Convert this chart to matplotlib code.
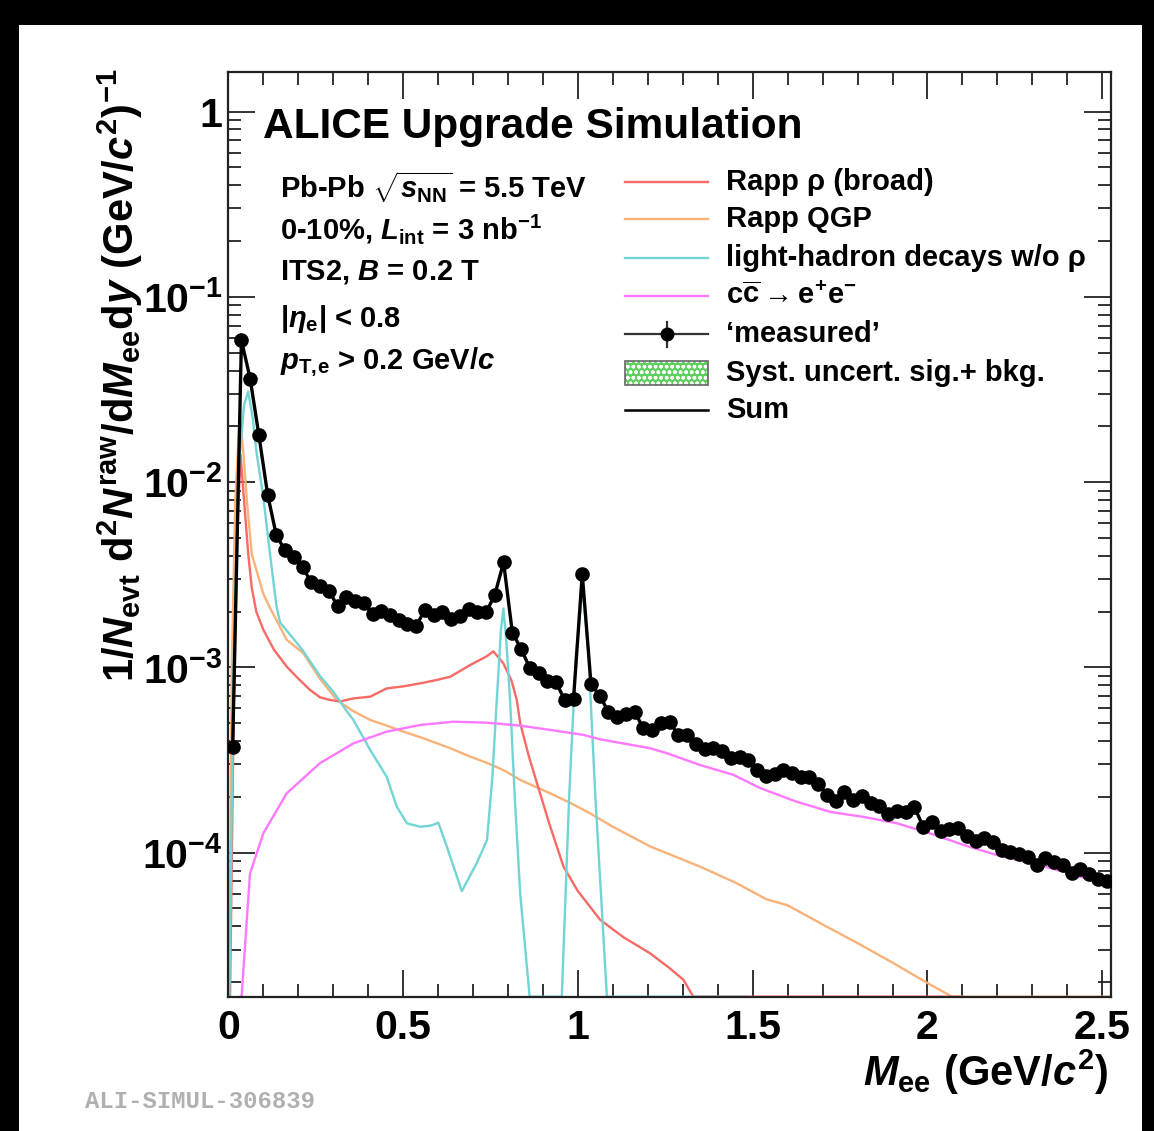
import numpy as np
import matplotlib
matplotlib.use("Agg")
import matplotlib.pyplot as plt
from matplotlib.patches import Rectangle
from matplotlib.lines import Line2D
from matplotlib.ticker import FixedLocator, MultipleLocator, NullFormatter

plt.rcParams['font.family'] = ['Liberation Sans', 'DejaVu Sans']
plt.rcParams['font.weight'] = 'bold'
plt.rcParams['mathtext.fontset'] = 'custom'
plt.rcParams['mathtext.rm'] = 'Liberation Sans:bold'
plt.rcParams['mathtext.it'] = 'Liberation Sans:italic:bold'
plt.rcParams['mathtext.bf'] = 'Liberation Sans:bold'
plt.rcParams['mathtext.sf'] = 'Liberation Sans:bold'

# ---------------- data ----------------
BIN_WIDTH = 0.025
N_BINS = 101
V_MEAS = [
    3.7e-4, 0.0583, 0.0362, 0.0179, 0.00857, 0.00515, 0.00428, 0.00393, 0.00346, 0.00288,
    0.00276, 0.00259, 0.00215, 0.00239, 0.00229, 0.00223, 0.00194, 0.00202, 0.00192, 0.00181,
    0.00171, 0.00168, 0.00204, 0.00192, 0.00199, 0.00183, 0.00190, 0.00207, 0.00198, 0.00198,
    0.00247, 0.00369, 0.00154, 0.00126, 0.000992, 0.000936, 0.000848, 0.000830, 0.000666, 0.000675,
    0.00319, 0.000813, 0.000703, 0.000575, 0.000538, 0.000562, 0.000575, 0.000468, 0.000461, 0.000498,
    0.000507, 0.000431, 0.000431, 0.000384, 0.000362, 0.000366, 0.000355, 0.000324, 0.000327, 0.000317,
    0.000279, 0.000259, 0.000265, 0.000279, 0.000268, 0.000255, 0.000256, 0.000236, 0.000205, 0.000190,
    0.000212, 0.000192, 0.000202, 0.000186, 0.000179, 0.000161, 0.000168, 0.000165, 0.000177, 0.000138,
    0.000147, 0.000131, 0.000134, 0.000136, 0.000123, 0.000116, 0.000120, 0.000114, 0.000104, 0.000101,
    9.83e-5, 9.45e-5, 8.57e-5, 9.32e-5, 8.94e-5, 8.57e-5, 7.80e-5, 8.13e-5, 7.65e-5, 7.18e-5,
    7.03e-5,
]
M_MEAS = BIN_WIDTH * (np.arange(N_BINS) + 0.5)

RHO_X = [0.005, 0.015, 0.025, 0.035, 0.045, 0.057, 0.067, 0.08, 0.10, 0.13, 0.167, 0.20, 0.234,
         0.262, 0.291, 0.32, 0.358, 0.406, 0.453, 0.501, 0.549, 0.596, 0.635, 0.692, 0.74, 0.758,
         0.775, 0.787, 0.81, 0.825, 0.835, 0.86, 0.883, 0.92, 0.959, 1.0, 1.064, 1.13, 1.207,
         1.26, 1.302, 1.33, 1.40, 1.70, 2.10]
RHO_Y = [1.0e-5, 5e-4, 0.005, 0.014, 0.008, 0.0041, 0.0027, 0.0020, 0.0016, 0.00125, 0.00101,
         0.00087, 0.000755, 0.00069, 0.000667, 0.000655, 0.00068, 0.000695, 0.00077, 0.00079,
         0.00082, 0.000855, 0.00089, 0.00103, 0.00115, 0.00122, 0.00112, 0.00105, 0.00085,
         0.00067, 0.00050, 0.00033, 0.000237, 0.00014, 8.4e-5, 6.2e-5, 4.34e-5, 3.5e-5, 2.86e-5,
         2.4e-5, 2.06e-5, 1.67e-5, 1.0e-5, 1.0e-5, 1.0e-5]

QGP_X = [0.003, 0.01, 0.02, 0.033, 0.045, 0.053, 0.067, 0.10, 0.119, 0.167, 0.215, 0.262, 0.31,
         0.358, 0.406, 0.453, 0.501, 0.549, 0.596, 0.635, 0.692, 0.74, 0.787, 0.835, 0.921,
         0.98, 1.035, 1.10, 1.207, 1.28, 1.35, 1.45, 1.54, 1.60, 1.70, 1.80, 1.90, 2.00, 2.07,
         2.10, 2.52]
QGP_Y = [1.0e-5, 0.001, 0.008, 0.0235, 0.013, 0.008, 0.0041, 0.0025, 0.0021, 0.00141, 0.00119,
         0.00087, 0.000667, 0.00058, 0.00052, 0.000485, 0.00045, 0.00042, 0.00039, 0.000366,
         0.00033, 0.000305, 0.000279, 0.000247, 0.000209, 0.000185, 0.000163, 0.000138,
         0.000108, 9.5e-5, 8.4e-5, 6.9e-5, 5.6e-5, 5.2e-5, 4.1e-5, 3.25e-5, 2.55e-5, 1.98e-5,
         1.67e-5, 1.0e-5, 1.0e-5]

LH_X = [0.003, 0.015, 0.03, 0.045, 0.057, 0.07, 0.081, 0.10, 0.119, 0.138, 0.148, 0.167, 0.19,
        0.215, 0.262, 0.30, 0.339, 0.358, 0.406, 0.453, 0.482, 0.511, 0.549, 0.58, 0.601, 0.625,
        0.668, 0.711, 0.74, 0.755, 0.768, 0.78, 0.787, 0.795, 0.806, 0.82, 0.835, 0.862, 0.954,
        0.975, 0.995, 1.014, 1.03, 1.05, 1.083, 1.20, 1.48]
LH_Y = [1.0e-5, 0.001, 0.012, 0.026, 0.0308, 0.022, 0.0143, 0.00835, 0.00413, 0.00213, 0.00175,
        0.00158, 0.0014, 0.00122, 0.0009, 0.00074, 0.00058, 0.00052, 0.000358, 0.000257,
        0.000177, 0.000144, 0.000138, 0.00014, 0.000145, 0.000108, 6.2e-5, 8.8e-5, 0.000117,
        0.00025, 0.000667, 0.0016, 0.00208, 0.0014, 0.000667, 0.00019, 6e-5, 1.0e-5, 1.0e-5,
        0.0002, 0.0012, 0.00268, 0.0012, 0.0002, 1.0e-5, 1.0e-5, 1.0e-5]

CC_X = [0.035, 0.038, 0.062, 0.10, 0.167, 0.262, 0.358, 0.453, 0.549, 0.644, 0.74, 0.835, 0.92,
        1.016, 1.064, 1.207, 1.255, 1.35, 1.445, 1.522, 1.62, 1.722, 1.817, 1.913, 2.008, 2.104,
        2.199, 2.295, 2.39, 2.504]
CC_Y = [1.0e-5, 1.67e-5, 7.7e-5, 0.000127, 0.000209, 0.000304, 0.000389, 0.00045, 0.000489,
        0.000509, 0.000503, 0.000485, 0.00046, 0.000432, 0.000409, 0.000366, 0.000344, 0.000297,
        0.000263, 0.000223, 0.00019, 0.000166, 0.000156, 0.000144, 0.000127, 0.00011, 9.7e-5,
        8.8e-5, 7.9e-5, 6.8e-5]

X_TICKS = [0, 0.5, 1, 1.5, 2, 2.5]
X_TICKLABELS = ["0", "0.5", "1", "1.5", "2", "2.5"]
Y_TICKS = [1e-4, 1e-3, 1e-2, 1e-1, 1]
Y_TICKLABELS = [r"$10^{-4}$", r"$10^{-3}$", r"$10^{-2}$", r"$10^{-1}$", "1"]

XMIN, XMAX = 0.0, 2.525
YMIN, YMAX = 1.67e-5, 1.64

C_RED = "#f76a66"
C_ORANGE = "#f8b27a"
C_CYAN = "#72d4d4"
C_MAG = "#ff78ff"
C_GREEN = "#5fcf5f"

# ---------------- figure ----------------
W, H = 1154, 1131
fig = plt.figure(figsize=(W / 100, H / 100), dpi=100)
ax = fig.add_axes([228.3 / W, 1 - 996.7 / H, (1111 - 228.3) / W, (996.7 - 71.7) / H])

# black frame of the screenshot
for (x0, y0, w, h) in [(0, H - 25, W, 25), (0, 0, 19, H), (W - 12, 0, 12, H)]:
    fig.patches.append(Rectangle((x0 / W, y0 / H), w / W, h / H, transform=fig.transFigure,
                                 facecolor="black", edgecolor="none", zorder=20))

def clipped(y):
    return np.maximum(np.asarray(y, dtype=float), YMIN)

lw = 1.7
ax.plot(QGP_X, clipped(QGP_Y), color=C_ORANGE, lw=lw, zorder=2)
ax.plot(RHO_X, clipped(RHO_Y), color=C_RED, lw=lw, zorder=2.1)
ax.plot(LH_X, clipped(LH_Y), color=C_CYAN, lw=lw, zorder=2.2)
ax.plot(CC_X, clipped(CC_Y), color=C_MAG, lw=lw, zorder=2.3)

vm = np.asarray(V_MEAS)
ax.bar(M_MEAS, vm * 0.10, bottom=vm * 0.95, width=BIN_WIDTH, color=C_GREEN, lw=0, zorder=3)
ax.plot(M_MEAS, vm, color="black", lw=2.4, zorder=4)
ax.plot(M_MEAS, vm, ls="none", marker="o", ms=9.5, color="black", zorder=5)

ax.set_yscale("log")
ax.set_xlim(XMIN, XMAX)
ax.set_ylim(YMIN, YMAX)

ax.xaxis.set_major_locator(FixedLocator(X_TICKS))
ax.set_xticklabels(X_TICKLABELS)
ax.xaxis.set_minor_locator(MultipleLocator(0.1))
ax.yaxis.set_major_locator(FixedLocator(Y_TICKS))
ax.set_yticklabels(Y_TICKLABELS)
minors = [m * 10.0 ** e for e in range(-5, 1) for m in range(2, 10)]
ax.yaxis.set_minor_locator(FixedLocator(minors))
ax.yaxis.set_minor_formatter(NullFormatter())

ax.tick_params(which="both", direction="in", top=True, right=True, color="#222222",
               width=1.3, labelsize=29.5)
ax.tick_params(which="major", length=19.5)
ax.tick_params(axis="x", which="major", pad=9)
ax.tick_params(axis="y", which="major", pad=4)
ax.tick_params(which="minor", length=9.5)
for s in ax.spines.values():
    s.set_linewidth(1.6)
    s.set_color("#222222")

# axis titles
fig.text(120 / W, 1 - 68 / H,
         r"$1/N_{\rm evt}\ {\rm d}^{2}N^{\rm raw}/{\rm d}M_{\rm ee}{\rm d}y\ ({\rm GeV}/c^{2})^{-1}$",
         rotation=90, ha="center", va="top", fontsize=30)
fig.text(1108 / W, 1 - 1072 / H, r"$M_{\rm ee}\ ({\rm GeV}/c^{2})$", ha="right", va="center",
         fontsize=30)

# header texts
def af(px, py):
    return ((px - 228.3) / 882.7, (996.7 - py) / 925.0)

ax.text(*af(263, 127), "ALICE Upgrade Simulation", transform=ax.transAxes, fontsize=30.5,
        ha="left", va="center")
info = [r"Pb-Pb $\sqrt{s_{\rm NN}}$ = 5.5 TeV",
        r"0-10%, $L_{\rm int}$ = 3 nb$^{-1}$",
        r"ITS2, $B$ = 0.2 T",
        r"|$\eta_{\rm e}$| < 0.8",
        r"$p_{\rm T,\!e}$ > 0.2 GeV/$c$"]
info_y = [187, 229, 272, 319, 362]
for t, py in zip(info, info_y):
    ax.text(*af(280, py), t, transform=ax.transAxes, fontsize=21, ha="left", va="center")

# legend (drawn by hand in axes fraction)
leg_labels = ["Rapp \u03c1 (broad)", "Rapp QGP", "light-hadron decays w/o \u03c1",
              r"c$\overline{\rm c} \rightarrow {\rm e}^{+}{\rm e}^{-}$", "\u2018measured\u2019",
              "Syst. uncert. sig.+ bkg.", "Sum"]
leg_y = [182, 219, 258, 296, 334, 373, 410]
x0, _ = af(625, 0)
x1, _ = af(708, 0)
xt, _ = af(726, 0)
leg_colors = [C_RED, C_ORANGE, C_CYAN, C_MAG]
for i, (lab, py) in enumerate(zip(leg_labels, leg_y)):
    _, yy = af(0, py)
    if i < 4:
        ax.add_line(Line2D([x0, x1], [yy, yy], color=leg_colors[i], lw=lw,
                           transform=ax.transAxes, clip_on=False))
    elif i == 4:
        ax.add_line(Line2D([x0, x1], [yy, yy], color="#333333", lw=1.6,
                           transform=ax.transAxes, clip_on=False))
        _, ya = af(0, 322)
        _, yb = af(0, 347)
        xm = (x0 + x1) / 2
        ax.add_line(Line2D([xm, xm], [yb, ya], color="#333333", lw=1.6,
                           transform=ax.transAxes, clip_on=False))
        ax.add_line(Line2D([xm], [yy], marker="o", ms=9, color="black", ls="none",
                           transform=ax.transAxes, clip_on=False))
    elif i == 5:
        _, yb = af(0, 385)
        _, ya = af(0, 361)
        ax.add_patch(Rectangle((x0, yb), x1 - x0, ya - yb, transform=ax.transAxes,
                               facecolor=C_GREEN, edgecolor="white", hatch="ooo", lw=0))
        ax.add_patch(Rectangle((x0, yb), x1 - x0, ya - yb, transform=ax.transAxes,
                               fill=False, edgecolor="#666666", lw=1.2))
    else:
        ax.add_line(Line2D([x0, x1], [yy, yy], color="black", lw=1.8,
                           transform=ax.transAxes, clip_on=False))
    ax.text(xt, yy, lab, transform=ax.transAxes, fontsize=21, ha="left", va="center")

fig.text(85 / W, 1 - 1101 / H, "ALI-SIMUL-306839", family=["Liberation Mono", "DejaVu Sans Mono"],
         fontweight="bold", color="#b0b0b0", fontsize=17.2, ha="left", va="center")

fig.savefig("out.png", dpi=100)
